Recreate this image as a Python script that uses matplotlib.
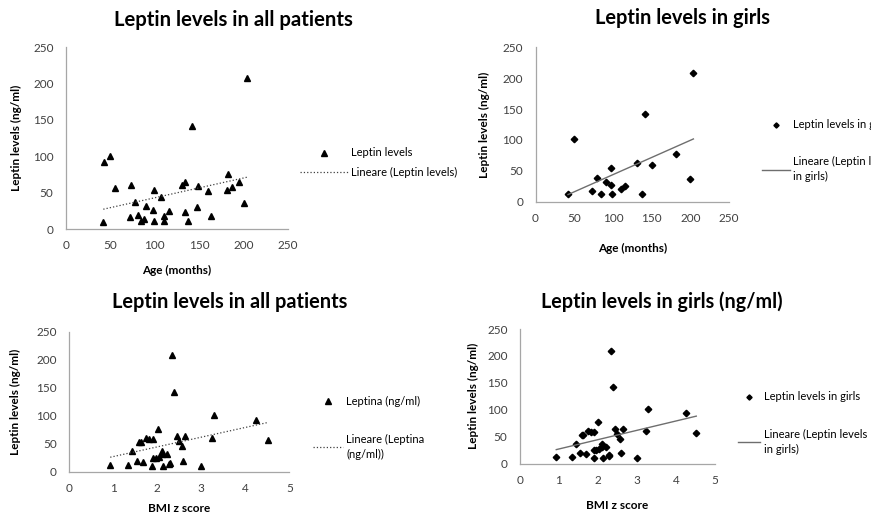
import numpy as np
import matplotlib
matplotlib.use("Agg")
import matplotlib.pyplot as plt

# ---------------- data ----------------
age_all = [42, 43, 50, 55, 73, 72, 78, 81, 85, 88, 90, 98, 99, 99, 107, 110, 110,
           116, 131, 134, 134, 137, 142, 147, 149, 160, 163, 181, 182, 187, 195, 200, 204]
leptin_age_all = [10, 92, 100, 56, 61, 16, 37, 19, 11, 14, 31, 26, 53, 11, 44, 18, 11,
                  25, 61, 64, 24, 11, 142, 30, 59, 52, 18, 53, 76, 58, 64, 36, 208]

age_girls = [42, 50, 73, 79, 85, 91, 98, 98, 99, 110, 116, 131, 138, 142, 150, 182, 200, 204]
leptin_age_girls = [12, 101, 17, 38, 12, 32, 54, 27, 12, 20, 26, 62, 12, 142, 59, 77, 37, 208]

bmi_all = [0.93, 1.33, 1.43, 1.54, 1.58, 1.62, 1.68, 1.75, 1.82, 1.91, 1.89, 1.90, 1.96,
           2.01, 2.03, 2.10, 2.11, 2.13, 2.21, 2.27, 2.29, 2.33, 2.39, 2.44, 2.49, 2.56,
           2.59, 2.64, 2.99, 3.24, 3.28, 4.25, 4.52]
leptin_bmi_all = [12, 12, 37, 19, 53, 53, 17, 61, 59, 59, 10, 25, 25, 77, 27, 31, 37, 11,
                  31, 14, 16, 209, 143, 64, 54, 45, 19, 64, 10, 61, 101, 93, 57]

# bottom-right panel (shows the same values in the original figure)
bmi_girls = bmi_all
leptin_bmi_girls = leptin_bmi_all

titles = ["Leptin levels in all patients", "Leptin levels in girls",
          "Leptin levels in all patients", "Leptin levels in girls (ng/ml)"]
ylabel = "Leptin levels (ng/ml)"
xlabels = ["Age (months)", "Age (months)", "BMI z score", "BMI z score"]
series_labels = ["Leptin levels", "Leptin levels in girls", "Leptina (ng/ml)", "Leptin levels in girls"]
trend_labels = ["Lineare (Leptin levels)", "Lineare (Leptin levels\nin girls)",
                "Lineare (Leptina\n(ng/ml))", "Lineare (Leptin levels\nin girls)"]
age_ticks = [0, 50, 100, 150, 200, 250]
bmi_ticks = [0, 1, 2, 3, 4, 5]
y_ticks = [0, 50, 100, 150, 200, 250]

# ---------------- style ----------------
plt.rcParams['font.family'] = ['Lato', 'DejaVu Sans']
W, H = 871, 520
fig = plt.figure(figsize=(W / 100, H / 100), dpi=100)

def fr(l, r, b, t):
    # pixel box -> figure fraction rect
    return [l / W, 1 - b / H, (r - l) / W, (b - t) / H]

panels = [
    dict(rect=fr(66, 288, 229, 47), x=age_all, y=leptin_age_all, xt=age_ticks, xmax=250,
         marker='^', ms=4.8, ls=':', lc='#404040', lw=0.9,
         title_pos=(0.752, 1.148), tsize=14.6, ylab_x=-0.198, xlab_y=-0.2,
         leg=(300, 147.5), lspace=0.75, hlen=4.3),
    dict(rect=fr(535.5, 729, 201.7, 47.3), x=age_girls, y=leptin_age_girls, xt=age_ticks, xmax=250,
         marker='D', ms=3.3, ls='-', lc='#6e6e6e', lw=1.0,
         title_pos=(0.762, 1.19), tsize=14.4, ylab_x=-0.235, xlab_y=-0.27,
         leg=(762, 119.5), lspace=2.3, hlen=2.5),
    dict(rect=fr(69.3, 289.3, 471.7, 331.7), x=bmi_all, y=leptin_bmi_all, xt=bmi_ticks, xmax=5,
         marker='^', ms=4.8, ls=':', lc='#404040', lw=0.9,
         title_pos=(0.73, 1.212), tsize=14.4, ylab_x=-0.22, xlab_y=-0.225,
         leg=(313, 395.5), lspace=2.45, hlen=2.7),
    dict(rect=fr(520, 715, 463.5, 329), x=bmi_girls, y=leptin_bmi_girls, xt=bmi_ticks, xmax=5,
         marker='D', ms=3.3, ls='-', lc='#6e6e6e', lw=1.0,
         title_pos=(0.728, 1.2), tsize=14.2, ylab_x=-0.21, xlab_y=-0.27,
         leg=(738, 391.5), lspace=2.35, hlen=2.0),
]

for i, p in enumerate(panels):
    ax = fig.add_axes(p['rect'])
    xs = np.asarray(p['x'], dtype=float)
    ys = np.asarray(p['y'], dtype=float)
    sc, = ax.plot(xs, ys, linestyle='none', marker=p['marker'], ms=p['ms'],
                  color='black', mec='black', label=series_labels[i], clip_on=False)
    k, b0 = np.polyfit(xs, ys, 1)
    xx = np.array([xs.min(), xs.max()])
    tl, = ax.plot(xx, k * xx + b0, linestyle=p['ls'], color=p['lc'], lw=p['lw'],
                  label=trend_labels[i])
    ax.set_xlim(0, p['xmax'])
    ax.set_ylim(0, 250)
    ax.set_xticks(p['xt'])
    ax.set_yticks(y_ticks)
    ax.tick_params(length=0, labelsize=8.5, labelcolor='#404040', pad=8)
    ax.tick_params(axis='y', pad=9)
    for s in ['top', 'right']:
        ax.spines[s].set_visible(False)
    for s in ['left', 'bottom']:
        ax.spines[s].set_color('#a6a6a6')
        ax.spines[s].set_linewidth(0.9)
    ax.set_ylabel(ylabel, fontsize=8.5, fontweight='bold', color='black')
    ax.yaxis.set_label_coords(p['ylab_x'], 0.5)
    ax.set_xlabel(xlabels[i], fontsize=8.5, fontweight='bold', color='black')
    ax.xaxis.set_label_coords(0.5, p['xlab_y'])
    ax.text(p['title_pos'][0], p['title_pos'][1], titles[i], transform=ax.transAxes,
            ha='center', va='center', fontsize=p['tsize'], fontweight='bold', color='black')
    lx, ly = p['leg']
    leg = ax.legend(handles=[sc, tl], loc='upper left',
                    bbox_to_anchor=(lx / W, 1 - ly / H), bbox_transform=fig.transFigure,
                    frameon=False, fontsize=8, borderpad=0, borderaxespad=0,
                    handlelength=p['hlen'], handletextpad=0.3, labelspacing=p['lspace'],
                    markerscale=0.8, labelcolor='black')
    for t in leg.get_texts():
        t.set_linespacing(1.45)

fig.savefig("out.png", dpi=100, facecolor='white')
